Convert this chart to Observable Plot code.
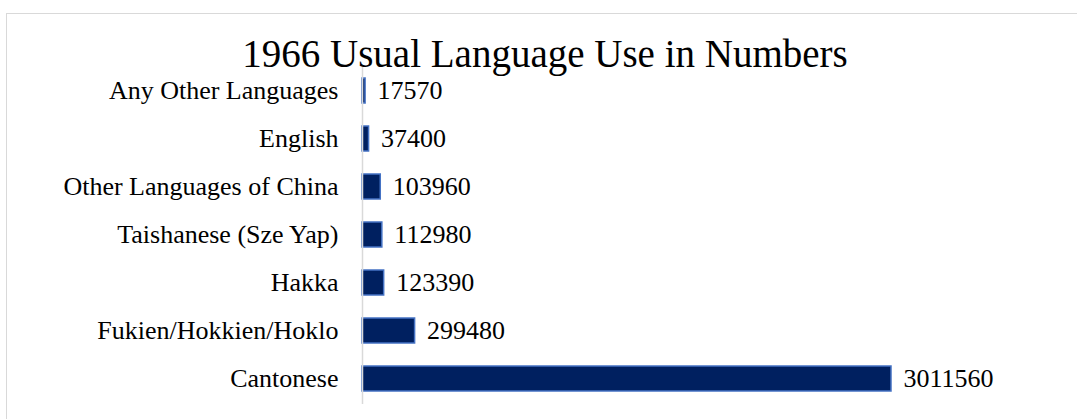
<!DOCTYPE html>
<html>
<head>
<meta charset="utf-8">
<script src="https://cdn.jsdelivr.net/npm/d3@7"></script>
<script src="https://cdn.jsdelivr.net/npm/@observablehq/plot@0.6"></script>
<style>
  html, body { margin: 0; padding: 0; background: #fff; }
  #wrap { position: relative; width: 1077px; height: 419px; overflow: hidden; }
  #frame { position: absolute; left: 6px; top: 13px; width: 1200px; height: 500px; border: 1.5px solid #d9d9d9; box-sizing: border-box; }
  #title { position: absolute; left: 0; width: 1090px; top: 32px; text-align: center; font-family: "Liberation Serif", "Times New Roman", serif; font-size: 39px; line-height: 44px; color: #000; white-space: nowrap; }
  #chart { position: absolute; left: 0; top: 0; }
</style>
</head>
<body>
<div id="wrap">
  <div id="frame"></div>
  <div id="chart"></div>
  <div id="title">1966 Usual Language Use in Numbers</div>
</div>
<script>
const languages = [
  "Any Other Languages",
  "English",
  "Other Languages of China",
  "Taishanese (Sze Yap)",
  "Hakka",
  "Fukien/Hokkien/Hoklo",
  "Cantonese"
];
const speakers = [17570, 37400, 103960, 112980, 123390, 299480, 3011560];

const data = languages.map((name, i) => ({name, value: speakers[i]}));

const chart = Plot.plot({
  width: 1077,
  height: 419,
  marginLeft: 362,
  marginRight: 186,
  marginTop: 65,
  marginBottom: 15,
  style: {fontFamily: "'Liberation Serif', 'Times New Roman', serif", fontSize: "26px", color: "#000", background: "transparent"},
  x: {domain: [0, d3.max(speakers)], axis: null},
  y: {domain: languages, paddingInner: 0.48, paddingOuter: 0.24, label: null, tickSize: 0, tickPadding: 24},
  marks: [
    Plot.barX(data, {x: "value", y: "name", fill: "#002060", stroke: "#4472c4", strokeWidth: 1.5}),
    Plot.ruleX([0], {stroke: "#d9d9d9", strokeWidth: 1.5}),
    Plot.text(data, {x: "value", y: "name", text: d => String(d.value), textAnchor: "start", dx: 12, fontSize: 26, fill: "#000"}),
    Plot.axisY({tickSize: 0, tickPadding: 24, fontSize: 26, label: null})
  ]
});
document.getElementById("chart").appendChild(chart);
</script>
</body>
</html>
